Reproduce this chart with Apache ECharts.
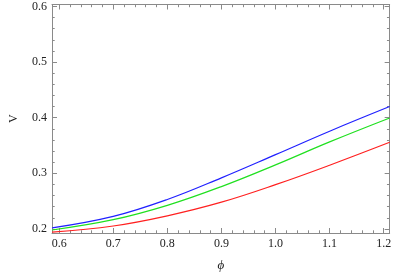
<!DOCTYPE html>
<html>
<head>
<meta charset="utf-8">
<script src="https://cdn.jsdelivr.net/npm/echarts@6/dist/echarts.min.js"></script>
<style>html,body{margin:0;padding:0;background:#fff;}#c{width:394px;height:277px;}</style>
</head>
<body>
<div id="c"></div>
<script>
// Data
const phi    = [0.587, 0.7, 0.8, 0.9, 1.0, 1.1, 1.211];
const vBlue  = [0.2018, 0.2225, 0.2529, 0.2918, 0.3335, 0.3757, 0.4200];
const vGreen = [0.1980, 0.2165, 0.2423, 0.2761, 0.3151, 0.3565, 0.3995];
const vRed   = [0.1940, 0.2052, 0.2235, 0.2480, 0.2795, 0.3145, 0.3557];
const xTicks = [0.6, 0.7, 0.8, 0.9, 1.0, 1.1, 1.2];
const yTicks = [0.2, 0.3, 0.4, 0.5, 0.6];

const xMin = 0.5868, xMax = 1.211, yMin = 0.1926, yMax = 0.6035;
function minors(a, b) { const r = []; for (let k = Math.ceil(a * 50); k <= Math.floor(b * 50); k++) r.push(+(k / 50).toFixed(2)); return r; }
const xMinor = minors(xMin, xMax), yMinor = minors(yMin, yMax);
const gray = '#8a8a8a';
const font = '"Liberation Serif", "Times New Roman", Times, serif';

function ax(pos, min, max, ticks, len, showLabel, showLine, extra) {
  return Object.assign({
    type: 'value', position: pos, min: min, max: max,
    axisLine: { show: showLine, onZero: false, lineStyle: { color: gray, width: 1 } },
    axisTick: { show: true, inside: true, length: len, customValues: ticks, lineStyle: { color: gray, width: 1 } },
    axisLabel: showLabel ? { show: true, customValues: ticks, formatter: v => v.toFixed(1), color: '#222', fontFamily: font, fontSize: 12, margin: 5 } : { show: false },
    splitLine: { show: false }
  }, extra || {});
}

const chart = echarts.init(document.getElementById('c'), null, { renderer: 'canvas' });
chart.setOption({
  animation: false,
  backgroundColor: '#fff',
  grid: { left: 40, right: 1, top: 4.5, bottom: 39.5, containLabel: false },
  xAxis: [
    ax('bottom', xMin, xMax, xTicks, 5, true, true, { name: 'ϕ', nameLocation: 'middle', nameGap: 26, nameTextStyle: { fontFamily: font, fontStyle: 'italic', fontSize: 13, color: '#222' } }),
    ax('bottom', xMin, xMax, xMinor, 2.7, false, false),
    ax('top', xMin, xMax, xTicks, 5, false, true),
    ax('top', xMin, xMax, xMinor, 2.7, false, false)
  ],
  yAxis: [
    ax('left', yMin, yMax, yTicks, 5, true, true, { name: 'V', nameLocation: 'middle', nameGap: 32, nameTextStyle: { fontFamily: font, fontSize: 12, color: '#222' } }),
    ax('left', yMin, yMax, yMinor, 2.7, false, false),
    ax('right', yMin, yMax, yTicks, 5, false, true),
    ax('right', yMin, yMax, yMinor, 2.7, false, false)
  ],
  series: [
    { name: 'blue', type: 'line', data: phi.map((x, i) => [x, vBlue[i]]), smooth: 0.4, showSymbol: false, lineStyle: { color: '#2020ff', width: 1.2 }, xAxisIndex: 0, yAxisIndex: 0 },
    { name: 'green', type: 'line', data: phi.map((x, i) => [x, vGreen[i]]), smooth: 0.4, showSymbol: false, lineStyle: { color: '#20e020', width: 1.2 }, xAxisIndex: 0, yAxisIndex: 0 },
    { name: 'red', type: 'line', data: phi.map((x, i) => [x, vRed[i]]), smooth: 0.4, showSymbol: false, lineStyle: { color: '#ff2020', width: 1.2 }, xAxisIndex: 0, yAxisIndex: 0 }
  ]
});
</script>
</body>
</html>
